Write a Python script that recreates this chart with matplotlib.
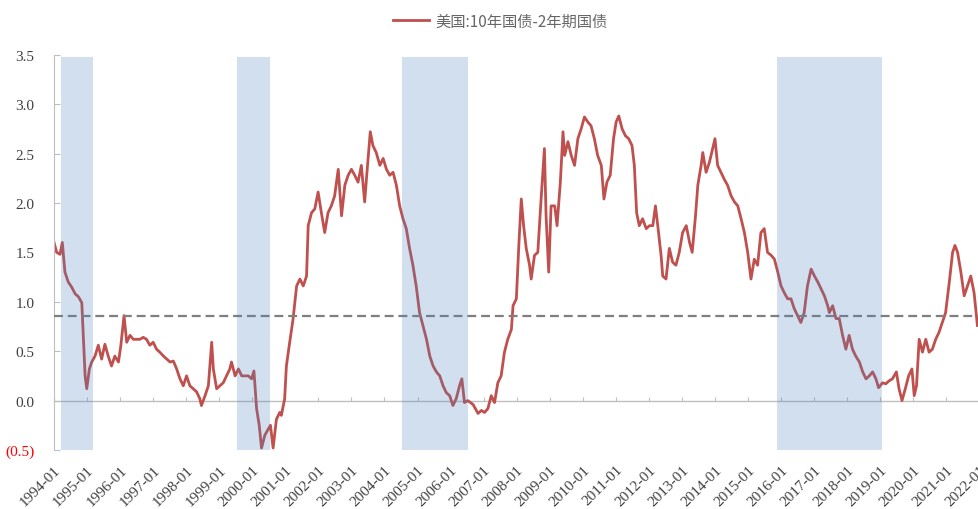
import datetime as dt
import matplotlib
matplotlib.use("Agg")
import matplotlib.pyplot as plt
import matplotlib.dates as mdates
from matplotlib.ticker import FuncFormatter

plt.rcParams['font.family'] = ['Liberation Serif', 'Noto Sans CJK SC']

# decimal years and spread values (%)
years = [1994.00, 1994.08, 1994.18, 1994.25, 1994.33, 1994.43, 1994.53, 1994.64, 1994.74, 1994.84,
         1994.89, 1994.94, 1994.99, 1995.07, 1995.14, 1995.24, 1995.34, 1995.44, 1995.54, 1995.64,
         1995.74, 1995.84, 1995.95, 1996.02, 1996.12, 1996.20, 1996.30, 1996.40, 1996.50, 1996.60,
         1996.70, 1996.80, 1996.90, 1997.00, 1997.10, 1997.20, 1997.31, 1997.41, 1997.51, 1997.61,
         1997.71, 1997.81, 1997.91, 1998.01, 1998.11, 1998.21, 1998.31, 1998.41, 1998.46, 1998.57,
         1998.67, 1998.77, 1998.82, 1998.92, 1999.02, 1999.12, 1999.22, 1999.32, 1999.37, 1999.48,
         1999.58, 1999.68, 1999.78, 1999.88, 1999.98, 2000.05, 2000.13, 2000.21, 2000.28, 2000.38,
         2000.48, 2000.55, 2000.63, 2000.73, 2000.83, 2000.88, 2000.98, 2001.03, 2001.13, 2001.23,
         2001.34, 2001.44, 2001.54, 2001.64, 2001.69, 2001.79, 2001.89, 2001.99, 2002.09, 2002.19,
         2002.29, 2002.39, 2002.49, 2002.60, 2002.70, 2002.80, 2002.90, 2003.00, 2003.10, 2003.20,
         2003.30, 2003.40, 2003.47, 2003.57, 2003.65, 2003.75, 2003.86, 2003.96, 2004.06, 2004.16,
         2004.26, 2004.36, 2004.46, 2004.56, 2004.66, 2004.76, 2004.86, 2004.96, 2005.06, 2005.16,
         2005.27, 2005.37, 2005.47, 2005.57, 2005.67, 2005.77, 2005.87, 2005.97, 2006.07, 2006.17,
         2006.27, 2006.34, 2006.42, 2006.52, 2006.68, 2006.83, 2006.93, 2007.03, 2007.13, 2007.23,
         2007.33, 2007.43, 2007.53, 2007.63, 2007.73, 2007.84, 2007.89, 2007.99, 2008.07, 2008.14,
         2008.21, 2008.29, 2008.39, 2008.44, 2008.54, 2008.64, 2008.74, 2008.84, 2008.89, 2008.97,
         2009.04, 2009.15, 2009.22, 2009.32, 2009.40, 2009.45, 2009.55, 2009.65, 2009.75, 2009.85,
         2009.95, 2010.05, 2010.15, 2010.25, 2010.35, 2010.45, 2010.56, 2010.64, 2010.73, 2010.83,
         2010.93, 2011.01, 2011.09, 2011.19, 2011.29, 2011.39, 2011.49, 2011.56, 2011.63, 2011.71,
         2011.81, 2011.92, 2012.02, 2012.12, 2012.20, 2012.27, 2012.37, 2012.42, 2012.52, 2012.62,
         2012.72, 2012.82, 2012.92, 2013.02, 2013.13, 2013.23, 2013.31, 2013.41, 2013.48, 2013.58,
         2013.63, 2013.73, 2013.83, 2013.93, 2014.00, 2014.08, 2014.18, 2014.28, 2014.38, 2014.49,
         2014.59, 2014.69, 2014.79, 2014.89, 2014.99, 2015.09, 2015.19, 2015.29, 2015.39, 2015.49,
         2015.59, 2015.70, 2015.80, 2015.90, 2016.00, 2016.10, 2016.20, 2016.30, 2016.40, 2016.50,
         2016.60, 2016.70, 2016.80, 2016.91, 2017.01, 2017.11, 2017.21, 2017.31, 2017.41, 2017.46,
         2017.56, 2017.66, 2017.76, 2017.86, 2017.96, 2018.06, 2018.16, 2018.26, 2018.37, 2018.47,
         2018.57, 2018.67, 2018.77, 2018.87, 2018.95, 2019.07, 2019.17, 2019.27, 2019.37, 2019.49,
         2019.57, 2019.66, 2019.76, 2019.86, 2019.96, 2020.03, 2020.10, 2020.18, 2020.28, 2020.38,
         2020.48, 2020.58, 2020.68, 2020.78, 2020.88, 2020.98, 2021.09, 2021.19, 2021.26, 2021.34,
         2021.44, 2021.54, 2021.64, 2021.74, 2021.84, 2021.94]
spread = [1.60, 1.50, 1.48, 1.60, 1.30, 1.20, 1.15, 1.08, 1.05, 0.99,
          0.62, 0.25, 0.12, 0.32, 0.39, 0.45, 0.56, 0.42, 0.57, 0.45,
          0.35, 0.45, 0.39, 0.55, 0.86, 0.59, 0.66, 0.62, 0.62, 0.62,
          0.64, 0.62, 0.56, 0.59, 0.52, 0.49, 0.45, 0.42, 0.39, 0.40,
          0.32, 0.22, 0.15, 0.25, 0.15, 0.12, 0.09, 0.02, -0.05, 0.05,
          0.15, 0.59, 0.32, 0.12, 0.15, 0.18, 0.25, 0.32, 0.39, 0.25,
          0.32, 0.25, 0.25, 0.25, 0.22, 0.30, -0.08, -0.25, -0.48, -0.35,
          -0.29, -0.25, -0.48, -0.19, -0.12, -0.15, 0.02, 0.35, 0.59, 0.82,
          1.16, 1.23, 1.16, 1.26, 1.77, 1.90, 1.94, 2.11, 1.90, 1.70,
          1.90, 1.97, 2.07, 2.34, 1.87, 2.18, 2.28, 2.34, 2.28, 2.21,
          2.38, 2.01, 2.31, 2.72, 2.58, 2.51, 2.38, 2.45, 2.34, 2.28,
          2.31, 2.18, 1.97, 1.84, 1.74, 1.54, 1.37, 1.16, 0.89, 0.76,
          0.62, 0.45, 0.35, 0.29, 0.25, 0.15, 0.08, 0.05, -0.05, 0.02,
          0.15, 0.22, -0.02, 0.00, -0.04, -0.13, -0.10, -0.12, -0.08, 0.05,
          -0.02, 0.18, 0.25, 0.49, 0.62, 0.72, 0.96, 1.03, 1.60, 2.04,
          1.77, 1.54, 1.37, 1.23, 1.47, 1.50, 2.04, 2.55, 1.87, 1.30,
          1.97, 1.97, 1.77, 2.21, 2.72, 2.48, 2.62, 2.48, 2.38, 2.65,
          2.75, 2.87, 2.82, 2.78, 2.65, 2.48, 2.38, 2.04, 2.21, 2.28,
          2.65, 2.82, 2.88, 2.75, 2.68, 2.65, 2.58, 2.38, 1.90, 1.77,
          1.84, 1.74, 1.77, 1.77, 1.97, 1.77, 1.47, 1.26, 1.23, 1.54,
          1.40, 1.37, 1.50, 1.70, 1.77, 1.60, 1.50, 1.87, 2.18, 2.38,
          2.51, 2.31, 2.41, 2.55, 2.65, 2.38, 2.31, 2.24, 2.18, 2.07,
          2.01, 1.97, 1.84, 1.70, 1.50, 1.23, 1.43, 1.37, 1.70, 1.74,
          1.50, 1.47, 1.43, 1.30, 1.16, 1.09, 1.03, 1.03, 0.93, 0.86,
          0.79, 0.89, 1.16, 1.33, 1.26, 1.20, 1.13, 1.06, 0.96, 0.89,
          0.96, 0.83, 0.83, 0.66, 0.52, 0.66, 0.52, 0.45, 0.39, 0.29,
          0.22, 0.25, 0.29, 0.22, 0.13, 0.18, 0.17, 0.20, 0.22, 0.29,
          0.12, 0.00, 0.12, 0.25, 0.32, 0.05, 0.15, 0.62, 0.49, 0.62,
          0.49, 0.52, 0.62, 0.69, 0.79, 0.89, 1.20, 1.50, 1.57, 1.50,
          1.30, 1.06, 1.16, 1.26, 1.09, 0.76]

avg_line = 0.86
span_start = [1994.21, 1999.53, 2004.53, 2015.89]
span_end = [1995.19, 2000.55, 2006.52, 2019.04]
legend_label = "美国:10年国债-2年期国债"


def to_date(y):
    yr = int(y)
    return dt.datetime(yr, 1, 1) + dt.timedelta(days=(y - yr) * 365.25)


dates = [to_date(y) for y in years]

fig = plt.figure(figsize=(9.79, 5.10), dpi=100)
ax = fig.add_axes([0.0552, 0.1157, 0.946, 0.7751])

ax.plot(dates, spread, color='#C0504D', lw=2.0, label=legend_label, zorder=2)
ax.axhline(avg_line, color='#7F7F7F', lw=1.6, ls=(0, (4, 2.2)), zorder=3)
for s, e in zip(span_start, span_end):
    ax.axvspan(to_date(s), to_date(e), ymin=0, ymax=0.993,
               color='#4F81BD', alpha=0.25, lw=0, zorder=4)

ax.set_ylim(-0.5, 3.5)
ax.set_xlim(dt.datetime(1994, 1, 1), dt.datetime(2022, 1, 10))
ax.set_yticks([-0.5, 0, 0.5, 1.0, 1.5, 2.0, 2.5, 3.0, 3.5])
ax.yaxis.set_major_formatter(FuncFormatter(
    lambda v, p: "(%.1f)" % abs(v) if v < 0 else "%.1f" % v))
ax.tick_params(axis='y', direction='in', length=4, color='#BFBFBF',
               labelsize=11, labelcolor='#404040', pad=14)
for lab in ax.get_yticklabels():
    if lab.get_text().startswith('('):
        lab.set_color('red')

ax.xaxis.set_major_locator(mdates.YearLocator())
ax.xaxis.set_major_formatter(mdates.DateFormatter('%Y-%m'))
ax.tick_params(axis='x', length=0, labelsize=11, labelcolor='#404040', pad=9)
plt.setp(ax.get_xticklabels(), rotation=45, ha='right', rotation_mode='anchor')

for side in ['top', 'right', 'bottom']:
    ax.spines[side].set_visible(False)
ax.spines['left'].set_color('#BFBFBF')

# zero line with small year ticks
zero_ax = ax.secondary_xaxis(0.125)
zero_ax.xaxis.set_major_locator(mdates.YearLocator())
zero_ax.tick_params(direction='in', length=3, color='#BFBFBF', labelbottom=False)
zero_ax.spines['bottom'].set_color('#BFBFBF')
zero_ax.spines['bottom'].set_linewidth(1.0)

fig.legend(loc='center', bbox_to_anchor=(0.511, 0.957), frameon=False,
           handlelength=2.4, handletextpad=0.4,
           prop={'family': ['Noto Sans CJK SC'], 'size': 11}, labelcolor='#666666')

fig.savefig('out.png', dpi=100)
